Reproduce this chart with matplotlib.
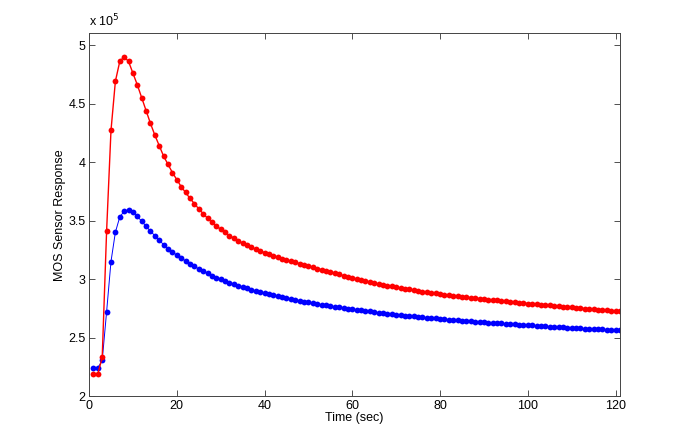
import numpy as np
import matplotlib.pyplot as plt
from matplotlib.ticker import FuncFormatter

plt.rcParams['font.family'] = ['Liberation Sans', 'DejaVu Sans']

# tiempo en segundos (una muestra por segundo)
tiempo = np.arange(1, 122)

# respuesta del sensor, en unidades de 1e5
sensor_rojo = [
    2.19, 2.19, 2.33, 3.41, 4.27, 4.69, 4.86, 4.90, 4.86, 4.76,
    4.66, 4.55, 4.44, 4.33, 4.23, 4.14, 4.05, 3.98, 3.91, 3.85,
    3.79, 3.74, 3.69, 3.645, 3.60, 3.56, 3.52, 3.485, 3.455, 3.425,
    3.398, 3.372, 3.348, 3.327, 3.307, 3.288, 3.271, 3.255, 3.24, 3.226,
    3.212, 3.199, 3.187, 3.175, 3.164, 3.153, 3.142, 3.131, 3.12, 3.11,
    3.10, 3.09, 3.08, 3.07, 3.06, 3.05, 3.04, 3.028, 3.018, 3.009,
    3.0, 2.991, 2.982, 2.974, 2.966, 2.958, 2.951, 2.944, 2.937, 2.93,
    2.923, 2.917, 2.911, 2.905, 2.899, 2.893, 2.888, 2.883, 2.878, 2.873,
    2.868, 2.863, 2.858, 2.854, 2.849, 2.845, 2.841, 2.837, 2.833, 2.829,
    2.825, 2.821, 2.817, 2.813, 2.809, 2.806, 2.802, 2.798, 2.795, 2.791,
    2.788, 2.784, 2.781, 2.778, 2.774, 2.771, 2.768, 2.764, 2.761, 2.758,
    2.755, 2.752, 2.748, 2.745, 2.742, 2.739, 2.736, 2.733, 2.73, 2.727,
    2.724,
]

sensor_azul = [
    2.24, 2.24, 2.305, 2.72, 3.15, 3.40, 3.53, 3.58, 3.59, 3.57,
    3.535, 3.495, 3.45, 3.41, 3.37, 3.33, 3.295, 3.26, 3.23, 3.205,
    3.18, 3.155, 3.13, 3.108, 3.087, 3.067, 3.048, 3.03, 3.013, 2.997,
    2.982, 2.968, 2.955, 2.943, 2.931, 2.92, 2.909, 2.899, 2.889, 2.88,
    2.871, 2.862, 2.854, 2.846, 2.838, 2.83, 2.822, 2.815, 2.808, 2.801,
    2.794, 2.787, 2.781, 2.775, 2.769, 2.763, 2.758, 2.753, 2.748, 2.743,
    2.738, 2.733, 2.728, 2.723, 2.718, 2.713, 2.708, 2.704, 2.70, 2.696,
    2.692, 2.688, 2.684, 2.68, 2.677, 2.673, 2.67, 2.666, 2.663, 2.66,
    2.657, 2.654, 2.651, 2.648, 2.645, 2.642, 2.639, 2.636, 2.634, 2.631,
    2.628, 2.626, 2.623, 2.621, 2.618, 2.616, 2.613, 2.611, 2.608, 2.606,
    2.604, 2.601, 2.599, 2.597, 2.594, 2.592, 2.59, 2.588, 2.585, 2.583,
    2.581, 2.579, 2.577, 2.575, 2.573, 2.571, 2.569, 2.567, 2.565, 2.563,
    2.561,
]

x_ticks = [0, 20, 40, 60, 80, 100, 120]
y_ticks = [2.0, 2.5, 3.0, 3.5, 4.0, 4.5, 5.0]

fig = plt.figure(figsize=(6.85, 4.45), dpi=100)
ax = fig.add_axes([0.13, 0.11, 0.775, 0.815])

ax.plot(tiempo, np.array(sensor_azul) * 1e5, color='b', lw=0.7,
        marker='o', ms=4.2, mew=0)
ax.plot(tiempo, np.array(sensor_rojo) * 1e5, color='r', lw=1.0,
        marker='o', ms=4.2, mew=0)

ax.set_xlim(0, 121)
ax.set_ylim(2.0e5, 5.1e5)
ax.set_xticks(x_ticks)
ax.set_yticks([v * 1e5 for v in y_ticks])
ax.yaxis.set_major_formatter(FuncFormatter(lambda v, p: f"{v / 1e5:g}"))

ax.tick_params(direction='in', top=True, right=True, length=4,
               width=0.6, colors='#333333', labelcolor='black', labelsize=9,
               pad=2.5)
for s in ax.spines.values():
    s.set_linewidth(0.7)
    s.set_color('#444444')

ax.set_xlabel("Time (sec)", fontsize=9, labelpad=0)
ax.set_ylabel("MOS Sensor Response", fontsize=9, labelpad=2)
ax.text(0.0, 1.01, r"x 10$^5$", transform=ax.transAxes, fontsize=9,
        ha='left', va='bottom')

fig.savefig("out.png", dpi=100)
